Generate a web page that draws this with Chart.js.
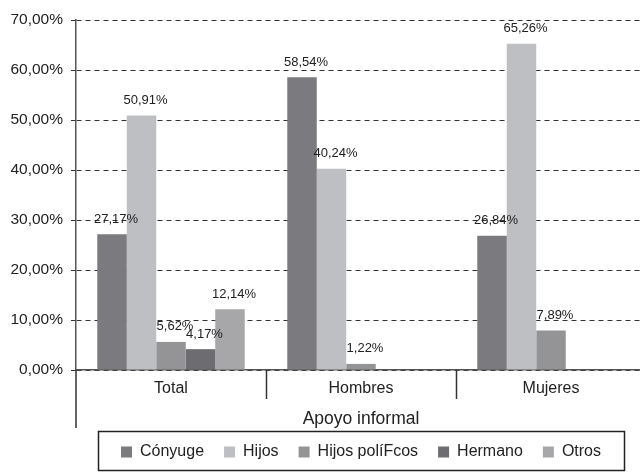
<!DOCTYPE html>
<html>
<head>
<meta charset="utf-8">
<script src="https://cdn.jsdelivr.net/npm/chart.js@4/dist/chart.umd.min.js"></script>
<style>
  html, body { margin: 0; padding: 0; background: #fff; overflow: hidden; }
  #wrap { width: 646px; height: 476px; }
</style>
</head>
<body>
<div id="wrap"><canvas id="chart" width="646" height="476"></canvas></div>
<script>
// Apoyo informal por grupo (porcentaje)
const categories = ['Total', 'Hombres', 'Mujeres'];
const seriesNames = ['Cónyuge', 'Hijos', 'Hijos políFcos', 'Hermano', 'Otros'];
const conyuge   = [27.17, 58.54, 26.84];
const hijos     = [50.91, 40.24, 65.26];
const politicos = [5.62, 1.22, 7.89];
const hermano   = [4.17, null, null];
const otros     = [12.14, null, null];
const yTicks    = [0, 10, 20, 30, 40, 50, 60, 70];

const seriesValues = [conyuge, hijos, politicos, hermano, otros];
const seriesColors = ['#7b7b7f', '#bebfc3', '#949497', '#6d6d71', '#a7a7aa'];

const fmt = v => v.toFixed(2).replace('.', ',') + '%';
const FONT = 'Liberation Sans, Arial, Helvetica, sans-serif';
const INK = '#222';

// value labels above each bar
const valueLabels = {
  id: 'valueLabels',
  afterDatasetsDraw(chart) {
    const ctx = chart.ctx;
    ctx.save();
    ctx.font = '13px ' + FONT;
    ctx.fillStyle = INK;
    ctx.textAlign = 'center';
    ctx.textBaseline = 'middle';
    chart.data.datasets.forEach((ds, di) => {
      const meta = chart.getDatasetMeta(di);
      meta.data.forEach((bar, i) => {
        const v = ds.data[i];
        if (v === null || v === undefined) return;
        ctx.fillText(fmt(v), bar.x + 4, bar.y - 15);
      });
    });
    ctx.restore();
  }
};

// category separators below the axis, left axis extension and legend frame
const axisDecor = {
  id: 'axisDecor',
  afterDraw(chart) {
    const ctx = chart.ctx;
    const area = chart.chartArea;
    const x = chart.scales.x;
    ctx.save();
    ctx.strokeStyle = '#333';
    ctx.lineWidth = 1.5;
    const step = x.width / categories.length;
    for (let i = 1; i < categories.length; i++) {
      const px = Math.round(x.left + step * i) + 0.5;
      ctx.beginPath();
      ctx.moveTo(px, area.bottom);
      ctx.lineTo(px, area.bottom + 29);
      ctx.stroke();
    }
    ctx.beginPath();
    ctx.moveTo(area.left, area.bottom);
    ctx.lineTo(area.left, area.bottom + 58);
    ctx.stroke();

    const lg = chart.legend;
    if (lg && lg.legendHitBoxes && lg.legendHitBoxes.length) {
      const boxes = lg.legendHitBoxes;
      const l = boxes[0].left - 23;
      const last = boxes[boxes.length - 1];
      const r = last.left + last.width + 23;
      ctx.lineWidth = 1.5;
      ctx.strokeStyle = '#222';
      ctx.strokeRect(Math.round(l) + 0.5, lg.top + 7.5, Math.round(r - l), 39);
    }
    ctx.restore();
  }
};

new Chart(document.getElementById('chart'), {
  type: 'bar',
  data: {
    labels: categories,
    datasets: seriesNames.map((name, i) => ({
      label: name,
      data: seriesValues[i],
      backgroundColor: seriesColors[i],
      borderWidth: 0,
      categoryPercentage: 0.776,
      barPercentage: 1.0
    }))
  },
  options: {
    responsive: false,
    devicePixelRatio: 1,
    animation: false,
    layout: { padding: { top: 20, right: 0, bottom: 6, left: 0 } },
    plugins: {
      tooltip: { enabled: false },
      legend: {
        position: 'bottom',
        fullSize: false,
        labels: {
          boxWidth: 11,
          boxHeight: 11,
          padding: 20,
          color: INK,
          font: { family: FONT, size: 16 }
        }
      }
    },
    scales: {
      x: {
        grid: { display: false, drawTicks: false },
        border: { display: true, color: '#555', width: 1.5 },
        ticks: { color: INK, padding: 9, font: { family: FONT, size: 16 } },
        title: {
          display: true,
          text: 'Apoyo informal',
          color: INK,
          font: { family: FONT, size: 17.5, lineHeight: 0.6 },
          padding: { top: 0, bottom: 0 }
        },
        afterFit(scale) { scale.height = 54; }
      },
      y: {
        min: 0,
        max: 70,
        afterBuildTicks(scale) { scale.ticks = yTicks.map(v => ({ value: v })); },
        ticks: {
          color: INK,
          padding: 8,
          font: { family: FONT, size: 15.5 },
          callback: v => fmt(v)
        },
        grid: {
          color: '#333',
          lineWidth: 1,
          tickLength: 5,
          tickColor: '#333',
          tickBorderDash: [],
          tickWidth: 1
        },
        border: { display: true, color: '#555', width: 1.5, dash: [5, 4] },
        afterFit(scale) { scale.width = 76; }
      }
    }
  },
  plugins: [valueLabels, axisDecor]
});
</script>
</body>
</html>
